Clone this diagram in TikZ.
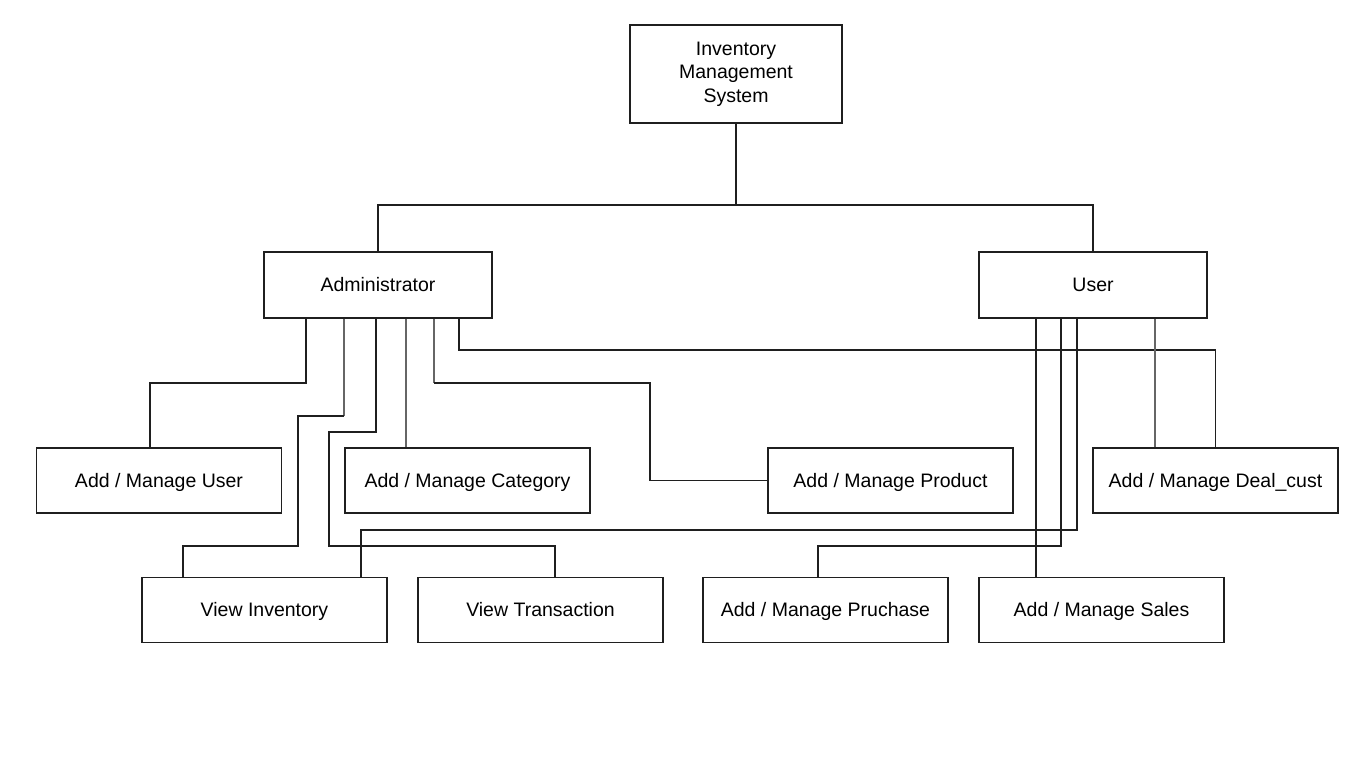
\documentclass[tikz,border=0pt]{standalone}
\usepackage{fontspec}
\setmainfont{Liberation Sans}
\colorlet{wire}{black!88}
\colorlet{wireGray}{black!60}

\begin{document}
\begin{tikzpicture}[x=1pt,y=-1pt,
  box/.style={draw=wire,line width=1.5pt,fill=white,minimum width=245pt,minimum height=65pt,inner sep=0pt,text height=16pt,text depth=3pt,font=\fontsize{19.5}{23.5}\selectfont},
  role/.style={box,minimum width=228pt,minimum height=66pt},
  link/.style={wire,line width=1.6pt},
  linkGray/.style={wireGray,line width=1.6pt}]
  \useasboundingbox[fill=white] (0,0) rectangle (1366,768);
  % system and roles
  \node[box,minimum width=212pt,minimum height=98pt,text height=,text depth=,align=center] (ims) at (736,74) {Inventory\\Management\\System};
  \node[role] (admin) at (378,285) {Administrator};
  \node[role] (user) at (1093,285) {User};
  \draw[link] (ims.south) -- ++(0,81) -| (admin.north);
  \draw[link] (ims.south) -- ++(0,81) -| (user.north);
  % functions
  \node[box] (addUser) at (159,480.5) {Add / Manage User};
  \node[box] (addCat) at (467.5,480.5) {Add / Manage Category};
  \node[box] (addProd) at (890.5,480.5) {Add / Manage Product};
  \node[box] (addDeal) at (1215.5,480.5) {Add / Manage Deal\_cust};
  \node[box] (viewInv) at (264.5,610) {View Inventory};
  \node[box] (viewTrans) at (540.5,610) {View Transaction};
  \node[box] (addPurch) at (825.5,610) {Add / Manage Pruchase};
  \node[box] (addSales) at (1101.5,610) {Add / Manage Sales};
  % administrator links
  \draw[link] ([xshift=-72pt]admin.south) -- ++(0,64) -| ([xshift=-9pt]addUser.north);
  \draw[linkGray] ([xshift=-34pt]admin.south) -- ++(0,97);
  \draw[link] ([xshift=-34pt]admin.south) ++(0,97) -- ++(-46,0) -- ++(0,130) -| ([xshift=-81.5pt]viewInv.north);
  \draw[link] ([xshift=-2pt]admin.south) -- ++(0,113) -- ++(-47,0) -- ++(0,114) -| ([xshift=14.5pt]viewTrans.north);
  \draw[linkGray] ([xshift=28pt]admin.south) -- ([xshift=-61.5pt]addCat.north);
  \draw[linkGray] ([xshift=56pt]admin.south) -- ++(0,64);
  \draw[link] ([xshift=56pt]admin.south) ++(0,64) -- ++(216,0) |- (addProd.west);
  \draw[link] ([xshift=81pt]admin.south) -- ++(0,31) -| (addDeal.north);
  % user links
  \draw[linkGray] ([xshift=62pt]user.south) -- ([xshift=-60.5pt]addDeal.north);
  \draw[link] ([xshift=-57pt]user.south) -- ([xshift=-65.5pt]addSales.north);
  \draw[link] ([xshift=-32pt]user.south) -- ++(0,227) -| ([xshift=-7.5pt]addPurch.north);
  \draw[link] ([xshift=-16pt]user.south) -- ++(0,211) -| ([xshift=96.5pt]viewInv.north);
\end{tikzpicture}
\end{document}
